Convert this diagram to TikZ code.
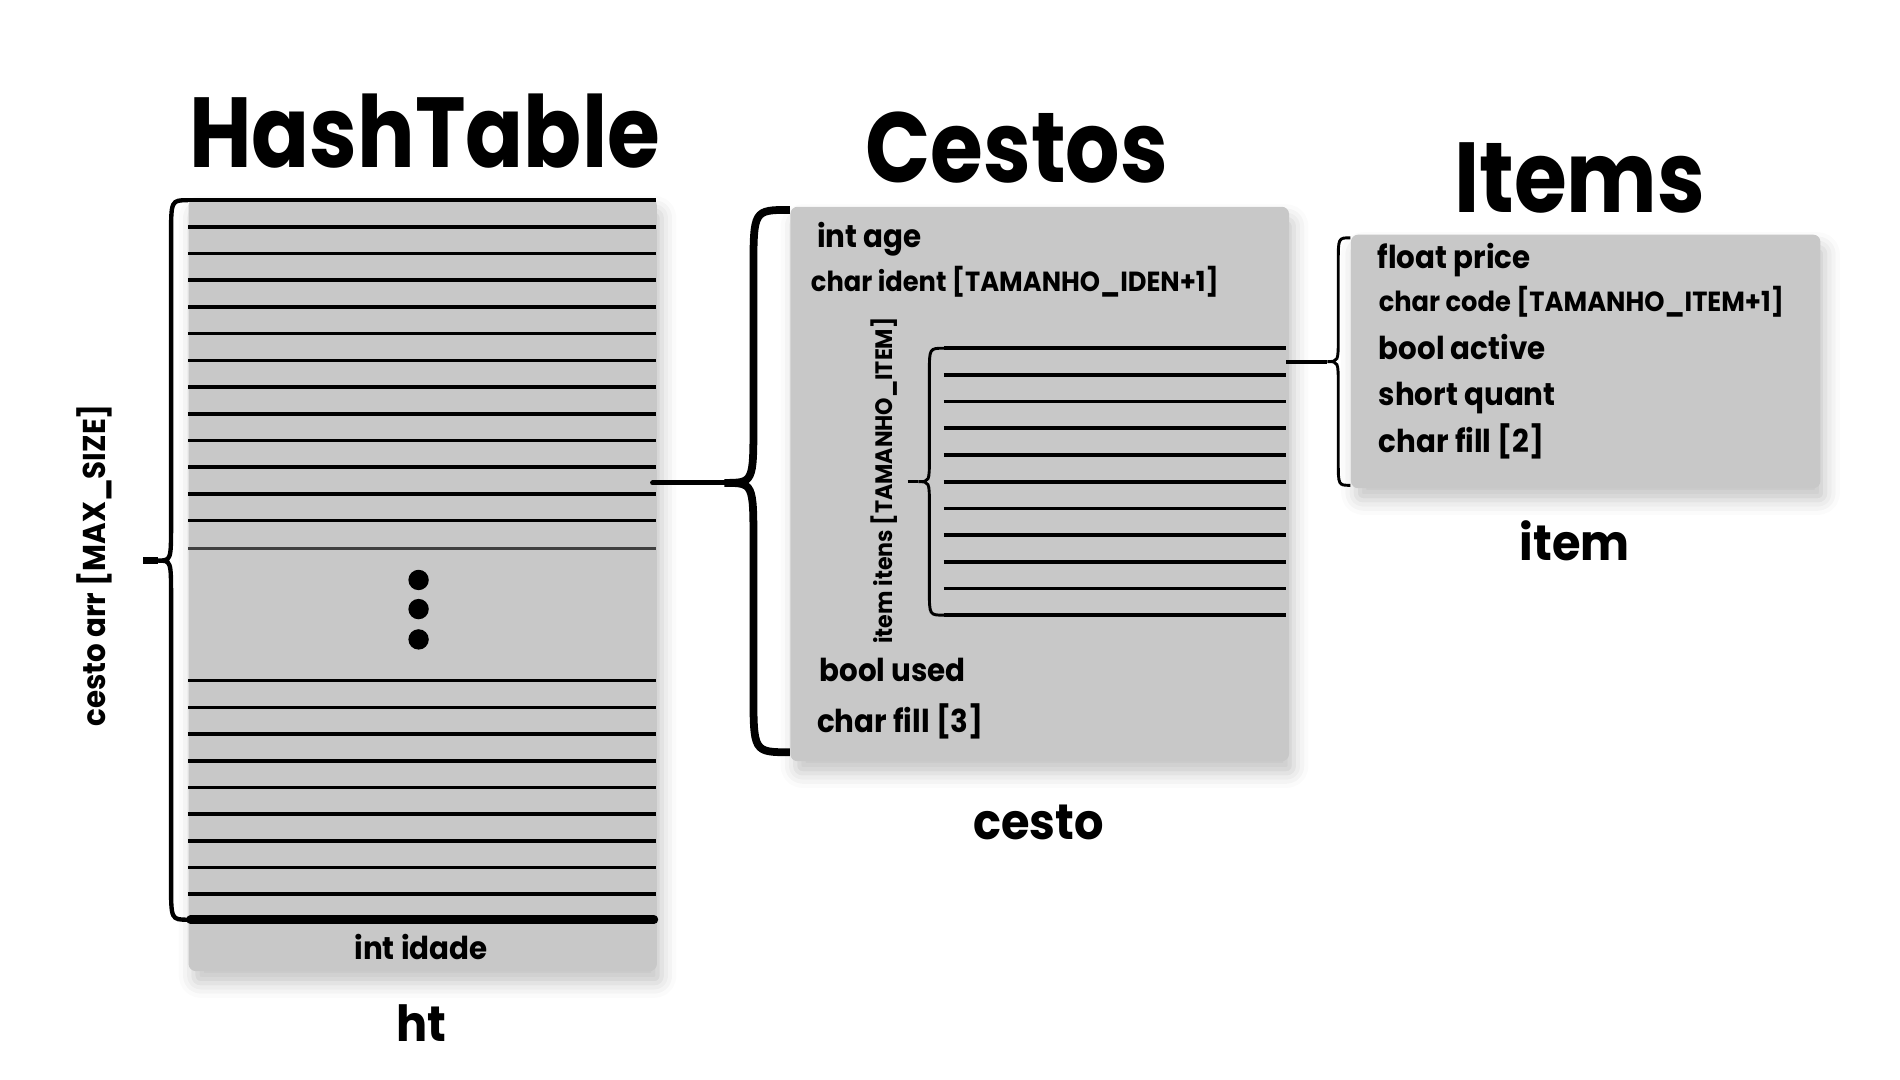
\documentclass[tikz,border=0pt]{standalone}
\usepackage{fontspec}
\setmainfont{Poppins}
\newfontfamily\titlefont[FakeStretch=0.86]{Poppins}
\newfontfamily\fieldfont[FakeStretch=0.93]{Poppins}
\usetikzlibrary{positioning,shadows.blur}
\definecolor{boxgray}{RGB}{200,200,200}
\tikzset{
 panel/.style={fill=boxgray,rounded corners=3pt,inner sep=0pt,
  blur shadow={shadow xshift=2pt,shadow yshift=-5pt,shadow blur radius=6pt,shadow opacity=22}},
 row/.style={line width=1.5pt},
 title/.style={inner sep=0pt,anchor=base,font=\titlefont\bfseries\fontsize{41}{45}\selectfont},
 caption/.style={inner sep=0pt,anchor=base,font=\fieldfont\bfseries\fontsize{20.5}{24}\selectfont},
 field/.style={inner sep=0pt,anchor=base west,font=\fieldfont\bfseries\fontsize{13}{15}\selectfont},
 longfield/.style={field,font=\fieldfont\bfseries\fontsize{11.4}{13}\selectfont},
 sidelabel/.style={inner sep=0pt,rotate=90,font=\fieldfont\bfseries\fontsize{#1}{15}\selectfont},
}
% curly brace: ends x, spine x, tip x, top y, mid y, bottom y, bend
\newcommand{\curlybrace}[7]{
 (#1,#4) .. controls (#2,#4) .. (#2,{#4+#7}) -- (#2,{#5-#7})
 .. controls (#2,#5) .. (#3,#5) .. controls (#2,#5) .. (#2,{#5+#7})
 -- (#2,{#6-#7}) .. controls (#2,#6) .. (#1,#6)}
\begin{document}
\begin{tikzpicture}[x=0.5pt,y=-0.5pt]
\useasboundingbox (0,0) rectangle (1566,890);

% HashTable
\node[title] (htTitle) at (350,138) {HashTable};
\node[panel,anchor=north west,minimum width=193pt,minimum height=318.5pt] (ht) at (155,163) {};
\foreach \y in {0,...,12} \draw[row] (155,165+22*\y) -- (541,165+22*\y);
\draw[line width=1.2pt,black!75] (155,452) -- (541,452);
\foreach \y in {0,...,8} \draw[row] (155,561+22*\y) -- (541,561+22*\y);
\draw[line width=3.5pt,line cap=round] (157,758) -- (539,758);
\foreach \y in {478,502,527} \fill (345,\y) circle[radius=4.2pt];
\node[caption,font=\fieldfont\bfseries\fontsize{13}{15}\selectfont] (idade) at (347,791) {int idade};
\node[caption] (htName) at (347,858) {ht};
\draw[line width=1.8pt] \curlybrace{155}{141}{130}{165}{462}{758}{30};
\coordinate (arrTip) at (130,462);
\coordinate (arrStub) at (118,462);
\draw[line width=3pt] (arrStub) -- (arrTip);
\node[sidelabel=13] (arrLabel) at (78,466) {cesto arr [MAX\_SIZE]};

% Cestos
\node[title] (cestoTitle) at (838,150) {Cestos};
\node[panel,anchor=north west,minimum width=205.5pt,minimum height=228.5pt] (cesto) at (651,170) {};
\node[field] (age) at (673,204) {int age};
\node[longfield] (ident) at (668,240) {char ident [TAMANHO\_IDEN+1]};
\foreach \y in {0,...,10} \draw[row] (778,287+22*\y) -- (1060,287+22*\y);
\draw[line width=1.2pt] \curlybrace{778}{766}{757}{287}{397}{507}{20};
\coordinate (itensTip) at (757,397);
\coordinate (itensStub) at (748,397);
\draw[line width=1.2pt] (itensStub) -- (itensTip);
\node[sidelabel=9.8] (itensLabel) at (729,396) {item itens [TAMANHO\_ITEM]};
\node[field] (used) at (675,562) {bool used};
\node[field] (fillC) at (673,604) {char fill [3]};
\node[caption] (cestoName) at (856,692) {cesto};
\draw[line width=3.2pt] \curlybrace{651}{621}{597}{173}{398}{620}{50};
\coordinate (cestoTip) at (597,398);
\draw[line width=2pt,line cap=round] (ht.east |- cestoTip) ++(-4,0) -- (cestoTip);

% Items
\node[title] (itemTitle) at (1302,175) {Items};
\node[panel,anchor=north west,minimum width=193.5pt,minimum height=104.5pt] (item) at (1113,193) {};
\node[field] (price) at (1135,221) {float price};
\node[longfield] (code) at (1136,257) {char code [TAMANHO\_ITEM+1]};
\node[field] (active) at (1136,296) {bool active};
\node[field] (quant) at (1136,334) {short quant};
\node[field] (fillI) at (1136,373) {char fill [2]};
\node[caption] (itemName) at (1298,462) {item};
\draw[line width=1.2pt] \curlybrace{1113}{1103}{1094}{196}{298}{400}{20};
\coordinate (itemTip) at (1094,298);
\coordinate (rowsEnd) at (1060,298);
\draw[line width=1.6pt] (rowsEnd) -- (itemTip);
\end{tikzpicture}
\end{document}
